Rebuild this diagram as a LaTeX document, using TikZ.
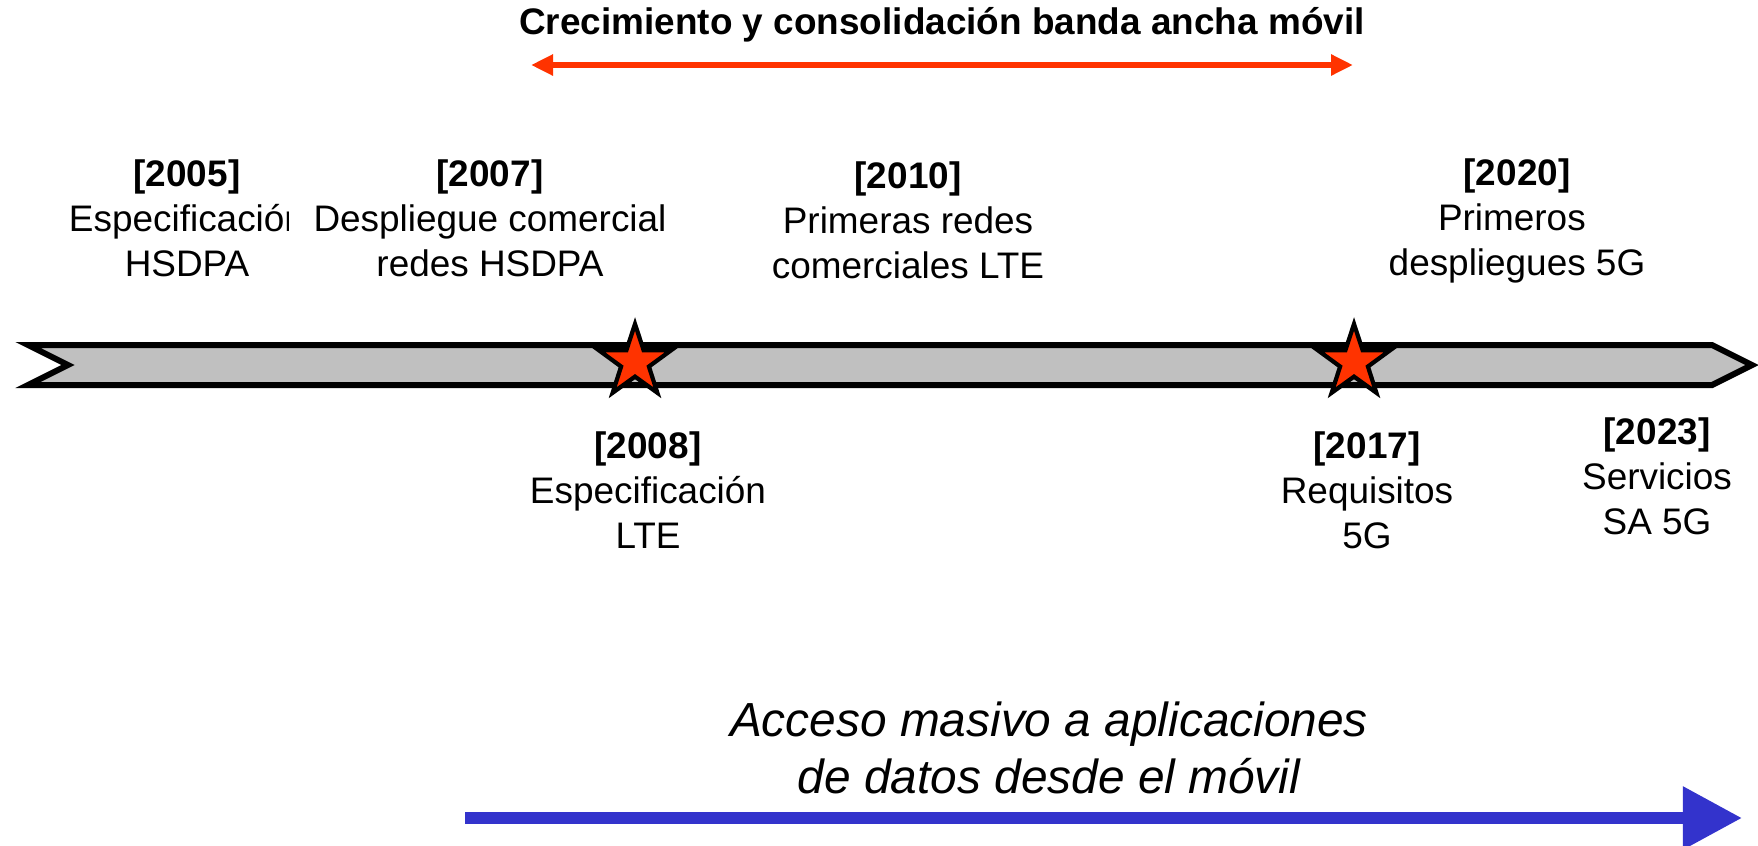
\documentclass[tikz,border=0pt]{standalone}
\usepackage{fontspec}
\setmainfont{Liberation Sans}
\usetikzlibrary{shapes.geometric, arrows.meta, positioning}

\definecolor{rojo}{HTML}{FF3300}
\definecolor{azul}{HTML}{3333CC}
\definecolor{banda}{HTML}{C0C0C0}

\begin{document}
\begin{tikzpicture}[x=0.01cm, y=-0.01cm,
    hito/.style={align=center, inner sep=0pt,
                 font=\fontsize{10.5}{12.8}\selectfont},
    estrella/.style={star, star points=5, star point ratio=2.6,
                     minimum size=0.76cm, inner sep=0pt,
                     draw=black, line width=1.2pt, fill=rojo}]

    \useasboundingbox (0,0) rectangle (1758,845);

    % titulo y flecha roja
    \node[font=\fontsize{10.5}{12.8}\selectfont\bfseries] (titulo) at (942,25)
        {Crecimiento y consolidación banda ancha móvil};
    \coordinate (r1) at (531,65);
    \coordinate (r2) at (1353,65);
    \draw[rojo, line width=0.06cm,
          {Triangle[length=2.2mm,width=2.0mm]}-{Triangle[length=2.2mm,width=2.0mm]}]
        (r1) -- (r2);

    % banda del tiempo
    \draw[fill=banda, line width=0.06cm]
        (28,345) -- (1712,345) -- (1752,365) -- (1712,385)
        -- (28,385) -- (68,365) -- cycle;

    \node[estrella] (e2008) at (635,362) {};
    \node[estrella] (e2017) at (1354,362) {};

    % hitos arriba
    \begin{scope}
        \clip (0,100) rectangle (288,300);
        \node[hito] (h2005) at (187,218)
            {\textbf{[2005]}\\Especificación\\HSDPA};
    \end{scope}
    \node[hito] (h2007) at (490,218)
        {\textbf{[2007]}\\Despliegue comercial\\redes HSDPA};
    \node[hito] (h2010) at (908,220)
        {\textbf{[2010]}\\Primeras redes\\comerciales LTE};
    \node[hito] (h2020) at (1517,221)
        {\textbf{[2020]}\\Primeros\hphantom{ }\\despliegues 5G};

    % hitos abajo
    \node[hito] (h2008) at (648,490)
        {\textbf{[2008]}\\Especificación\\LTE};
    \node[hito] (h2017) at (1367,490)
        {\textbf{[2017]}\\Requisitos\\5G};
    \node[hito] (h2023) at (1657,476)
        {\textbf{[2023]}\\Servicios\\SA 5G};

    % flecha azul
    \node[align=center, inner sep=0pt,
          font=\fontsize{13.6}{16.2}\selectfont\itshape] (acceso) at (1049,748)
        {Acceso masivo a aplicaciones\\de datos desde el móvil};
    \coordinate (a1) at (465,818);
    \coordinate (a2) at (1742,818);
    \draw[azul, line width=0.12cm,
          -{Triangle[length=5.9mm,width=6mm]}]
        (a1) -- (a2);
\end{tikzpicture}
\end{document}
